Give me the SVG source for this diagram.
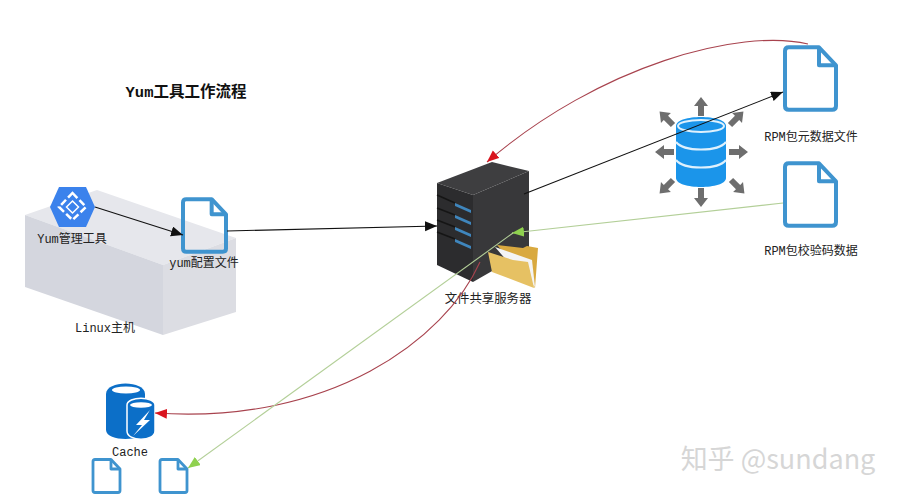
<svg xmlns="http://www.w3.org/2000/svg" width="898" height="500" viewBox="0 0 898 500">
<style>
text{font-family:"Liberation Mono","Noto Sans CJK SC",monospace;font-size:12px;fill:#222;text-anchor:middle}
.title{font-size:15.5px;font-weight:bold;fill:#111}
.wm{font-family:"Noto Sans CJK SC","Noto Sans",sans-serif;font-size:27px;fill:#d6d6d6}
.doc{fill:none;stroke:#3f94cf;stroke-linejoin:round;vector-effect:non-scaling-stroke}
.c{fill:none;stroke-width:1.1}
.k{stroke:#111}.r{stroke:#a8434e}.g{stroke:#b3cf98}
.ga{fill:#6e6e6e}
.dbb{fill:#1b95ea}
.dbl{fill:none;stroke:#dff1fd;stroke-width:2.2}
</style>
<defs>
<marker id="ak" markerUnits="userSpaceOnUse" markerWidth="14" markerHeight="12" refX="12" refY="5" orient="auto"><path d="M0,0L12,5L0,10Z" fill="#111"/></marker>
<marker id="ar" markerUnits="userSpaceOnUse" markerWidth="14" markerHeight="12" refX="12" refY="5" orient="auto"><path d="M0,0L12,5L0,10Z" fill="#d9141e"/></marker>
<marker id="ag" markerUnits="userSpaceOnUse" markerWidth="14" markerHeight="12" refX="12" refY="5" orient="auto"><path d="M0,0L12,5L0,10Z" fill="#8fd14f"/></marker>
<symbol id="docicon" viewBox="0 0 54 66" overflow="visible">
<path class="doc" d="M4,0H36L54,19V62Q54,66 50,66H4Q0,66 0,62V4Q0,0 4,0Z"/>
<path class="doc" d="M36,0V19H54"/>
</symbol>
<path id="garrow" class="ga" d="M-3,0V-10H-7L0,-19L7,-10H3V0Z"/>
</defs>
<rect width="898" height="500" fill="#fff"/>

<g id="linux-host">
<path d="M25,215L97,190L236,238L163,265Z" fill="#e6e7ec"/>
<path d="M25,215L163,265V335L25,287Z" fill="#d4d6de"/>
<path d="M163,265L236,238V312L163,335Z" fill="#dcdde3"/>
<text x="105" y="332">Linux主机</text>
</g>

<text class="title" x="186" y="97">Yum工具工作流程</text>

<g id="yum-tool">
<path d="M50,207L59,187H86L95,207L86,227H59Z" fill="#3b82ec"/>
<path d="M72.5,193L86,207L72.5,220L59,207Z" fill="none" stroke="#fff" stroke-width="2.5" stroke-dasharray="7 3"/>
<path d="M72.5,201L78.5,207L72.5,213L66.5,207Z" fill="none" stroke="#fff" stroke-width="1.5"/>
<text x="72" y="243">Yum管理工具</text>
</g>

<g id="yum-config">
<use href="#docicon" x="183" y="198" width="43" height="55" stroke-width="4"/>
<text x="204" y="267">yum配置文件</text>
</g>

<g id="file-server">
<path d="M437,183L492,162L529,171L473,195Z" fill="#3e3e40"/>
<path d="M437,183L473,195V282L437,265Z" fill="#2c2c2e"/>
<path d="M473,195L529,171V250L473,282Z" fill="#38383a"/>
<g fill="#3f86bd">
<path d="M455,203L471,210V213L455,206Z"/>
<path d="M455,215L471,222V225L455,218Z"/>
<path d="M455,227L471,234V237L455,230Z"/>
<path d="M455,239L471,246V249L455,242Z"/>
</g>
<g fill="none" stroke="#151515" stroke-width="1.5">
<path d="M437,195L455,203"/><path d="M437,208L455,215"/><path d="M437,220L455,227"/><path d="M437,232L455,239"/>
</g>
<path d="M497,245L523,248L527,246L538,248L535,288Z" fill="#d9a93f"/>
<path d="M495,247L532,260L535,287L515,270Z" fill="#f4f4f4"/>
<path d="M488,252L513,260L528,262L534,288L492,272Z" fill="#e6c163"/>
<text x="488" y="303" style="font-size:12.4px">文件共享服务器</text>
</g>

<g id="rpm-database">
<use href="#garrow" transform="translate(701,116)"/>
<use href="#garrow" transform="translate(673,125) rotate(-45)"/>
<use href="#garrow" transform="translate(730,125) rotate(45)"/>
<use href="#garrow" transform="translate(674,152) rotate(-90)"/>
<use href="#garrow" transform="translate(729,152) rotate(90)"/>
<use href="#garrow" transform="translate(673,180) rotate(-135)"/>
<use href="#garrow" transform="translate(731,180) rotate(135)"/>
<use href="#garrow" transform="translate(701,188) rotate(180)"/>
<path class="dbb" d="M676,126C676,114 726,114 726,126V178C726,190 676,190 676,178Z"/>
<ellipse cx="701" cy="126" rx="23" ry="6" class="dbb" stroke="#dff1fd" stroke-width="2"/>
<path class="dbl" d="M676,142C684,152 718,152 726,142"/>
<path class="dbl" d="M676,160C684,170 718,170 726,160"/>
</g>

<g id="rpm-metadata">
<use href="#docicon" x="785" y="47" width="51" height="63" stroke-width="4"/>
<text x="811" y="141">RPM包元数据文件</text>
</g>

<g id="rpm-checksum">
<use href="#docicon" x="785" y="163" width="51" height="63" stroke-width="4"/>
<text x="811" y="255">RPM包校验码数据</text>
</g>

<g id="cache">
<path d="M106,394C106,380 145,380 145,394V430C145,442 106,442 106,430Z" fill="#0c6fc8"/>
<ellipse cx="126" cy="390" rx="14" ry="3.5" fill="#fff"/>
<path d="M127,405C127,396 155,396 155,405V431C155,442 127,442 127,431Z" fill="#0c6fc8" stroke="#fff" stroke-width="1.5"/>
<ellipse cx="141" cy="405" rx="11" ry="2.8" fill="#fff"/>
<path d="M150,410L136,425L142,425L133,436L150,420L144,420Z" fill="#fff"/>
<text x="130" y="456">Cache</text>
</g>

<g id="cache-file-1"><use href="#docicon" x="93" y="459" width="27" height="34" stroke-width="2.8"/></g>
<g id="cache-file-2"><use href="#docicon" x="160" y="459" width="27" height="34" stroke-width="2.8"/></g>

<g id="connectors">
<path class="c k" d="M95,207L183,235" marker-end="url(#ak)"/>
<path class="c k" d="M227,231L437,226" marker-end="url(#ak)"/>
<path class="c k" d="M524,194L783,92" marker-end="url(#ak)"/>
<path class="c r" d="M808,44C740,28 600,65 487,162" marker-end="url(#ar)"/>
<path class="c r" d="M480,262C445,340 330,425 155,413" marker-end="url(#ar)"/>
<path class="c g" d="M783,203L512,233" marker-end="url(#ag)"/>
<path class="c g" d="M513,233L188,468" marker-end="url(#ag)"/>
</g>

<text class="wm" x="778" y="469">知乎 @sundang</text>
</svg>
